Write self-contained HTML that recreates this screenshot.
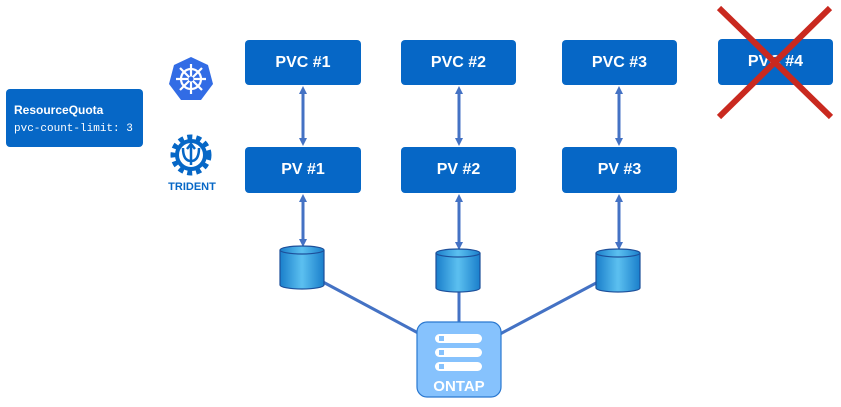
<!DOCTYPE html>
<html><head><style>
body{margin:0;background:#fff;width:841px;height:407px;overflow:hidden;font-family:"Liberation Sans",sans-serif}
.b{position:absolute;background:#0667c6;border-radius:4px;color:#fff;font-weight:bold;font-size:16px;display:flex;align-items:center;justify-content:center}
</style></head><body>
<svg width="841" height="407" style="position:absolute;left:0;top:0">
<defs>
<marker id="a" markerWidth="8" markerHeight="8" refX="4" refY="4" orient="auto-start-reverse" markerUnits="userSpaceOnUse"><path d="M0,0L8,4L0,8z" fill="#4472c4"/></marker>
<linearGradient id="g" x1="0" x2="1"><stop offset="0" stop-color="#1a7fcb"/><stop offset="0.5" stop-color="#5cc0f0"/><stop offset="1" stop-color="#1a7fcb"/></linearGradient>
</defs>
<g stroke="#4472c4" stroke-width="3" fill="none">
<line x1="303" y1="90" x2="303" y2="142" marker-start="url(#a)" marker-end="url(#a)"/>
<line x1="459" y1="90" x2="459" y2="142" marker-start="url(#a)" marker-end="url(#a)"/>
<line x1="619" y1="90" x2="619" y2="142" marker-start="url(#a)" marker-end="url(#a)"/>
<line x1="303" y1="198" x2="303" y2="243" marker-start="url(#a)" marker-end="url(#a)"/>
<line x1="459" y1="198" x2="459" y2="246" marker-start="url(#a)" marker-end="url(#a)"/>
<line x1="619" y1="198" x2="619" y2="246" marker-start="url(#a)" marker-end="url(#a)"/>
<line x1="323" y1="282" x2="420" y2="334"/>
<line x1="459" y1="290" x2="459" y2="324"/>
<line x1="598" y1="282" x2="500" y2="334"/>
</g>
<g stroke="#1d4f9a" stroke-width="1.2" fill="url(#g)">
<path d="M280,250 v35 a22,4 0 0 0 44,0 v-35"/><ellipse cx="302" cy="250" rx="22" ry="4"/>
<path d="M436,253 v35 a22,4 0 0 0 44,0 v-35"/><ellipse cx="458" cy="253" rx="22" ry="4"/>
<path d="M596,253 v35 a22,4 0 0 0 44,0 v-35"/><ellipse cx="618" cy="253" rx="22" ry="4"/>
</g>
<rect x="417" y="322" width="84" height="75" rx="10" fill="#86c2fd" stroke="#2a78d0" stroke-width="1.2"/>
<g fill="#fff"><rect x="435" y="334" width="47" height="9" rx="4.5"/><rect x="435" y="348" width="47" height="9" rx="4.5"/><rect x="435" y="362" width="47" height="9" rx="4.5"/></g>
<g fill="#86c2fd"><rect x="439" y="336" width="5" height="5"/><rect x="439" y="350" width="5" height="5"/><rect x="439" y="364" width="5" height="5"/></g>
<text x="459" y="391" fill="#fff" font-weight="bold" font-size="15" text-anchor="middle" font-family="Liberation Sans">ONTAP</text>
<polygon points="191,57 208,65 213,84 201,100 181,100 169,84 174,65" fill="#326ce5"/>
<g stroke="#fff" stroke-width="2.2" fill="none"><circle cx="191" cy="79" r="10"/><line x1="191" y1="64" x2="191" y2="94"/><line x1="176" y1="79" x2="206" y2="79"/><line x1="180" y1="68" x2="202" y2="90"/><line x1="202" y1="68" x2="180" y2="90"/></g>
<circle cx="191" cy="79" r="2.5" fill="#326ce5"/>
<circle cx="191" cy="155" r="18" fill="none" stroke="#0667c6" stroke-width="5" stroke-dasharray="5 4"/>
<circle cx="191" cy="155" r="14" fill="none" stroke="#0667c6" stroke-width="4"/>
<path d="M183,148 q0,13 8,13 q8,0 8,-13 M191,145 v20 M187,149 l4,-5 l4,5" stroke="#0667c6" stroke-width="2.5" fill="none"/>
<text x="192" y="190" fill="#0667c6" font-weight="bold" font-size="11" text-anchor="middle" font-family="Liberation Sans">TRIDENT</text>
</svg>
<div class="b" style="left:245px;top:40px;width:116px;height:45px">PVC #1</div>
<div class="b" style="left:401px;top:40px;width:115px;height:45px">PVC #2</div>
<div class="b" style="left:562px;top:40px;width:115px;height:45px">PVC #3</div>
<div class="b" style="left:718px;top:39px;width:115px;height:46px">PVC #4</div>
<div class="b" style="left:245px;top:147px;width:116px;height:46px">PV #1</div>
<div class="b" style="left:401px;top:147px;width:115px;height:46px">PV #2</div>
<div class="b" style="left:562px;top:147px;width:115px;height:46px">PV #3</div>
<div class="b" style="left:6px;top:89px;width:137px;height:58px;display:block">
<div style="font-size:12px;position:absolute;left:8px;top:14px">ResourceQuota</div>
<div style="font-size:11px;font-weight:normal;font-family:'Liberation Mono',monospace;position:absolute;left:8px;top:34px">pvc-count-limit: 3</div>
</div>
<svg width="841" height="407" style="position:absolute;left:0;top:0">
<g stroke="#c9291f" stroke-width="6"><line x1="719" y1="8" x2="831" y2="117"/><line x1="830" y1="8" x2="719" y2="117"/></g>
</svg>
</body></html>
